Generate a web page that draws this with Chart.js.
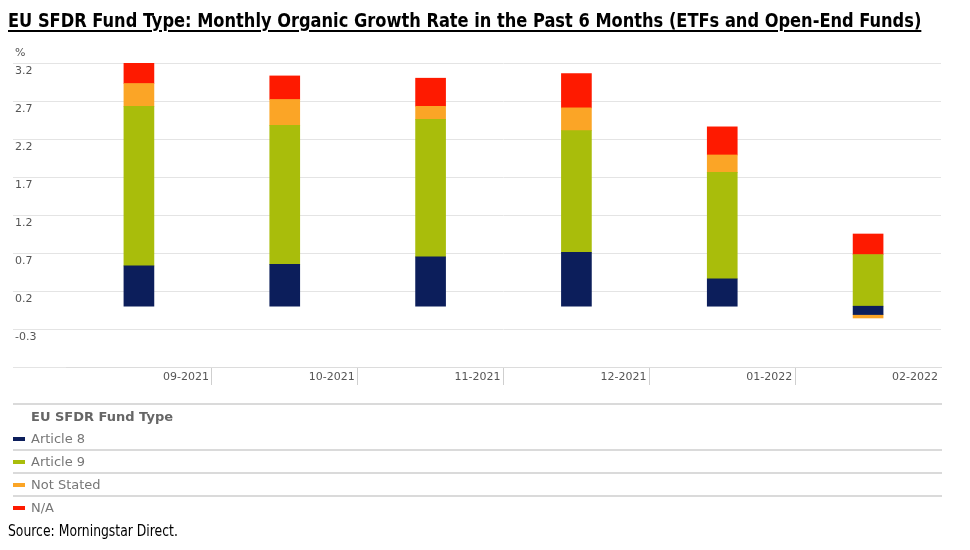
<!DOCTYPE html>
<html>
<head>
<meta charset="utf-8">
<script src="https://cdn.jsdelivr.net/npm/chart.js@4.4.1/dist/chart.umd.min.js"></script>
<style>
  html, body { margin: 0; padding: 0; background: #fff; }
  #wrap { position: relative; width: 970px; height: 550px; overflow: hidden; }
  #chart { position: absolute; left: 0; top: 0; }
  #title {
    position: absolute; left: 8px; top: 8px; white-space: nowrap; transform-origin: left top;
    font-family: "DejaVu Sans Condensed", "Liberation Sans Narrow", sans-serif;
    font-weight: bold; font-size: 20px; color: #000;
    text-decoration: underline; text-decoration-thickness: 2px; text-underline-offset: 3px;
  }
  #unit {
    position: absolute; left: 15px; top: 46px;
    font-family: "DejaVu Sans", sans-serif; font-size: 11px; color: #555;
  }
  #legend {
    position: absolute; left: 13px; top: 403px; width: 929px;
    border-top: 2px solid #dadada;
    font-family: "DejaVu Sans", sans-serif; font-size: 13px; color: #777;
  }
  #legend .ttl { font-weight: bold; color: #666; line-height: 24px; padding-left: 18px; }
  #legend .row { line-height: 21px; border-top: 2px solid #dadada; }
  #legend .row.first { border-top: none; line-height: 20px; }
  #legend .sw { display: inline-block; width: 12px; height: 4px; vertical-align: middle; margin-right: 6px; position: relative; top: -1px; }
  #source {
    position: absolute; left: 8px; top: 522px; white-space: nowrap; transform-origin: left top;
    font-family: "DejaVu Sans Condensed", "Liberation Sans Narrow", sans-serif;
    font-size: 15px; color: #000;
  }
</style>
</head>
<body>
<div id="wrap">
  <canvas id="chart" width="970" height="550"></canvas>
  <div id="title">EU SFDR Fund Type: Monthly Organic Growth Rate in the Past 6 Months (ETFs and Open-End Funds)</div>
  <div id="unit">%</div>
  <div id="legend"></div>
  <div id="source">Source: Morningstar Direct.</div>
</div>
<script>
// data
const months = ["09-2021", "10-2021", "11-2021", "12-2021", "01-2022", "02-2022"];
const article8 = [0.53, 0.55, 0.65, 0.71, 0.36, -0.11];
const article9 = [2.10, 1.83, 1.81, 1.60, 1.40, 0.68];
const notStated = [0.30, 0.34, 0.17, 0.30, 0.23, -0.045];
const notAvailable = [0.27, 0.31, 0.37, 0.45, 0.37, 0.27];
const yTicks = [-0.8, -0.3, 0.2, 0.7, 1.2, 1.7, 2.2, 2.7, 3.2];

const seriesNames = ["Article 8", "Article 9", "Not Stated", "N/A"];
const seriesColors = ["#0c1e5b", "#a9bd0b", "#fba526", "#fe1a00"];

const tickFont = { family: "DejaVu Sans", size: 11 };

const chart = new Chart(document.getElementById("chart"), {
  type: "bar",
  data: {
    labels: months,
    datasets: [article8, article9, notStated, notAvailable].map((d, i) => ({
      label: seriesNames[i],
      data: d,
      backgroundColor: seriesColors[i],
      borderWidth: 0,
      barThickness: 30,
    })),
  },
  options: {
    responsive: false,
    animation: false,
    devicePixelRatio: 1,
    layout: { padding: { left: 15, right: 29, top: 63, bottom: 153 } },
    plugins: { legend: { display: false }, tooltip: { enabled: false } },
    scales: {
      x: {
        stacked: true,
        border: { color: "#dcdcdc" },
        grid: {
          offset: true,
          drawOnChartArea: false,
          tickLength: 18,
          color: (c) => (c.index === undefined || c.index === 0 ? "rgba(0,0,0,0)" : "#cfcfcf"),
        },
        ticks: { font: tickFont, color: "#555", align: "end", labelOffset: 70, padding: -14 },
        afterFit: (s) => { s.height = 30; },
      },
      y: {
        stacked: true,
        min: -0.8,
        max: 3.2,
        border: { display: false },
        grid: { color: "#e4e4e4", tickLength: 53 },
        ticks: {
          font: tickFont,
          color: "#555",
          crossAlign: "far",
          labelOffset: 8,
          callback: (v) => (v === -0.8 ? "" : v.toFixed(1)),
        },
        afterBuildTicks: (s) => { s.ticks = yTicks.map((v) => ({ value: v })); },
        afterFit: (s) => { s.width = 51; },
      },
    },
  },
});

// html legend built from the chart datasets
const legend = document.getElementById("legend");
let html = '<div class="ttl">EU SFDR Fund Type</div>';
chart.data.datasets.forEach((ds, i) => {
  html += '<div class="row' + (i === 0 ? " first" : "") + '"><span class="sw" style="background:' +
    ds.backgroundColor + '"></span>' + ds.label + "</div>";
});
legend.innerHTML = html;

// squeeze the condensed texts to the reference widths
function fitWidth(id, w) {
  const el = document.getElementById(id);
  el.style.transform = "scaleX(" + w / el.offsetWidth + ")";
}
fitWidth("title", 913);
fitWidth("source", 170);
</script>
</body>
</html>
